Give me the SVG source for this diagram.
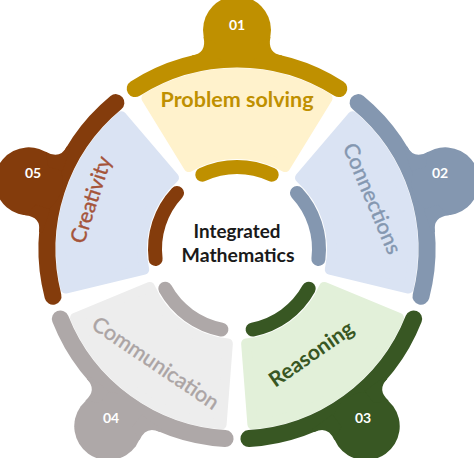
<svg xmlns="http://www.w3.org/2000/svg" xmlns:xlink="http://www.w3.org/1999/xlink" width="474" height="458" viewBox="0 0 474 458">
<style>
.band{fill:none;stroke-width:17;stroke-linecap:round}
.iband{fill:none;stroke-width:14;stroke-linecap:round}
.fl{stroke-width:10;stroke-linejoin:round}
.lab{font-family:Lato,"Open Sans",sans-serif;font-size:21px;text-anchor:middle}
.thin{stroke-width:0.4}
.num{font-family:Lato,"Open Sans",sans-serif;font-size:14px;font-weight:bold;fill:#fff;text-anchor:middle}
.ctr{font-family:Lato,"Open Sans",sans-serif;font-size:18.5px;font-weight:bold;fill:#1a1a1a;text-anchor:middle}
</style>
<defs>
<path id="outer" fill="none" d="M -101.8 -160.4 A 190 190 0 0 1 101.8 -160.4"/>
<path id="inner" fill="none" d="M -34.7 -74.3 A 82 82 0 0 1 34.7 -74.3"/>
<path id="fillp" d="M -90.6 -150.9 A 176 176 0 0 1 90.6 -150.9 L 48.2 -81.9 A 95 95 0 0 0 -48.2 -81.9 Z"/>
<g id="knob">
 <circle cx="0" cy="-219" r="34"/>
 <path d="M -45 -193.5 Q -30 -196 -33.5 -212 L -20 -205 L -20 -190 L -45 -190 Z"/>
 <path d="M 45 -193.5 Q 30 -196 33.5 -212 L 20 -205 L 20 -190 L 45 -190 Z"/>
</g>
</defs>

<g id="node-problem-solving">
 <g transform="translate(237 249)">
  <use xlink:href="#fillp" class="fl" fill="#FFF2CC" stroke="#FFF2CC"/>
  <use xlink:href="#outer" class="band" stroke="#BF9000"/>
  <use xlink:href="#inner" class="iband" stroke="#BF9000"/>
  <use xlink:href="#knob" fill="#BF9000"/>
 </g>
 <text class="lab" x="237" y="107" font-weight="bold" fill="#BF9000" textLength="153" lengthAdjust="spacingAndGlyphs">Problem solving</text>
 <text class="num" x="237" y="30">01</text>
</g>

<g id="node-connections">
 <g transform="translate(237 249) rotate(72)">
  <use xlink:href="#fillp" class="fl" fill="#DAE3F3" stroke="#DAE3F3"/>
  <use xlink:href="#outer" class="band" stroke="#8497B0"/>
  <use xlink:href="#inner" class="iband" stroke="#8497B0"/>
  <use xlink:href="#knob" fill="#8497B0"/>
 </g>
 <text class="lab thin" transform="translate(371 199) rotate(67)" y="6" fill="#8497B0" stroke="#8497B0" textLength="118" lengthAdjust="spacingAndGlyphs">Connections</text>
 <text class="num" x="440" y="178">02</text>
</g>

<g id="node-reasoning">
 <g transform="translate(237 249) rotate(144)">
  <use xlink:href="#fillp" class="fl" fill="#E2F0D9" stroke="#E2F0D9"/>
  <use xlink:href="#outer" class="band" stroke="#385723"/>
  <use xlink:href="#inner" class="iband" stroke="#385723"/>
  <use xlink:href="#knob" fill="#385723"/>
 </g>
 <text class="lab" transform="translate(312 355) rotate(-35)" y="6" font-weight="bold" fill="#385723" textLength="98" lengthAdjust="spacingAndGlyphs">Reasoning</text>
 <text class="num" x="363" y="423">03</text>
</g>

<g id="node-communication">
 <g transform="translate(237 249) rotate(216)">
  <use xlink:href="#fillp" class="fl" fill="#EDEDED" stroke="#EDEDED"/>
  <use xlink:href="#outer" class="band" stroke="#AEA8A8"/>
  <use xlink:href="#inner" class="iband" stroke="#AEA8A8"/>
  <use xlink:href="#knob" fill="#AEA8A8"/>
 </g>
 <text class="lab thin" transform="translate(155 364) rotate(34)" y="6" fill="#ABA4A4" stroke="#ABA4A4" textLength="148" lengthAdjust="spacingAndGlyphs">Communication</text>
 <text class="num" x="111" y="423" font-weight="normal">04</text>
</g>

<g id="node-creativity">
 <g transform="translate(237 249) rotate(288)">
  <use xlink:href="#fillp" class="fl" fill="#DAE3F3" stroke="#DAE3F3"/>
  <use xlink:href="#outer" class="band" stroke="#843C0C"/>
  <use xlink:href="#inner" class="iband" stroke="#843C0C"/>
  <use xlink:href="#knob" fill="#843C0C"/>
 </g>
 <text class="lab thin" transform="translate(92 200) rotate(-72)" y="6" fill="#A5543A" stroke="#A5543A" textLength="90" lengthAdjust="spacingAndGlyphs">Creativity</text>
 <text class="num" x="33" y="178">05</text>
</g>

<g id="node-center">
 <text class="ctr" x="237" y="238" textLength="87" lengthAdjust="spacingAndGlyphs">Integrated</text>
 <text class="ctr" x="238" y="262" textLength="113" lengthAdjust="spacingAndGlyphs">Mathematics</text>
</g>
</svg>
